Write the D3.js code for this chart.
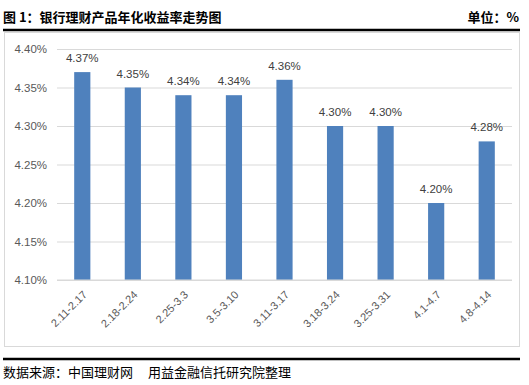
<!DOCTYPE html>
<html>
<head>
<meta charset="utf-8">
<script src="https://cdn.jsdelivr.net/npm/d3@7"></script>
<style>
  body { margin: 0; background: #fff; }
  svg { display: block; }
</style>
</head>
<body>
<script>
const periods = ['2.11-2.17', '2.18-2.24', '2.25-3.3', '3.5-3.10', '3.11-3.17', '3.18-3.24', '3.25-3.31', '4.1-4.7', '4.8-4.14'];
const yields = [4.37, 4.35, 4.34, 4.34, 4.36, 4.30, 4.30, 4.20, 4.28];
const y_ticks = [4.10, 4.15, 4.20, 4.25, 4.30, 4.35, 4.40];

const bar_color = '#4f81bd';
const text_color = '#595959';
const cn_font = '"Noto Sans CJK SC", sans-serif';

const svg = d3.select('body').append('svg')
  .attr('width', 529)
  .attr('height', 385);

// header
svg.append('text')
  .attr('x', 3).attr('y', 22)
  .style('font-family', cn_font).style('font-size', '13px').style('font-weight', 'bold')
  .text('图 1：银行理财产品年化收益率走势图');
svg.append('text')
  .attr('x', 519).attr('y', 22).attr('text-anchor', 'end')
  .style('font-family', cn_font).style('font-size', '13px').style('font-weight', 'bold')
  .text('单位：%');
svg.append('line')
  .attr('x1', 3).attr('x2', 520).attr('y1', 30).attr('y2', 30)
  .attr('stroke', '#000').attr('stroke-width', 2.5);

// chart box
svg.append('rect')
  .attr('x', 4.5).attr('y', 32.5).attr('width', 515).attr('height', 314)
  .attr('fill', 'none').attr('stroke', '#d9d9d9');

const x = d3.scaleBand().range([57, 512]).domain(periods).paddingInner(0.68).paddingOuter(0.34);
const y = d3.scaleLinear().range([280, 49]).domain([4.10, 4.40]);

const y_ax = d3.axisLeft(y).tickValues(y_ticks).tickSize(-(512 - 57)).tickFormat((d) => d.toFixed(2) + '%');
const gy = svg.append('g')
  .attr('transform', 'translate(57,0)')
  .call(y_ax);
gy.select('.domain').remove();
gy.selectAll('line').attr('stroke', '#d9d9d9');
gy.selectAll('text')
  .attr('x', -10)
  .attr('fill', text_color)
  .style('font-family', 'Liberation Sans, sans-serif')
  .style('font-size', '11.5px');

svg.selectAll('.bar')
  .data(yields)
  .enter()
  .append('rect')
    .attr('class', 'bar')
    .attr('x', (d, i) => x(periods[i]))
    .attr('width', x.bandwidth())
    .attr('y', (d) => y(d))
    .attr('height', (d) => y(4.10) - y(d))
    .attr('fill', bar_color);

svg.selectAll('.bar_label')
  .data(yields)
  .enter()
  .append('text')
    .attr('class', 'bar_label')
    .attr('x', (d, i) => x(periods[i]) + x.bandwidth() / 2)
    .attr('y', (d) => y(d) - 10)
    .attr('text-anchor', 'middle')
    .attr('fill', '#404040')
    .style('font-family', 'Liberation Sans, sans-serif')
    .style('font-size', '11.5px')
    .text((d) => d.toFixed(2) + '%');

// baseline
svg.append('line')
  .attr('x1', 57).attr('x2', 512).attr('y1', y(4.10)).attr('y2', y(4.10))
  .attr('stroke', '#d9d9d9');

// x labels
svg.selectAll('.x_label')
  .data(periods)
  .enter()
  .append('text')
    .attr('class', 'x_label')
    .attr('transform', (d) => 'translate(' + (x(d) + x.bandwidth() / 2) + ',' + 290 + ') rotate(-45)')
    .attr('text-anchor', 'end')
    .attr('dy', '0.7em')
    .attr('fill', text_color)
    .style('font-family', 'Liberation Sans, sans-serif')
    .style('font-size', '11px')
    .text((d) => d);

// footer
svg.append('line')
  .attr('x1', 3).attr('x2', 520).attr('y1', 359).attr('y2', 359)
  .attr('stroke', '#000').attr('stroke-width', 2.5);
svg.append('text')
  .attr('x', 3).attr('y', 377)
  .style('font-family', cn_font).style('font-size', '13px')
  .text('数据来源：中国理财网');
svg.append('text')
  .attr('x', 148).attr('y', 377)
  .style('font-family', cn_font).style('font-size', '13px')
  .text('用益金融信托研究院整理');
</script>
</body>
</html>
